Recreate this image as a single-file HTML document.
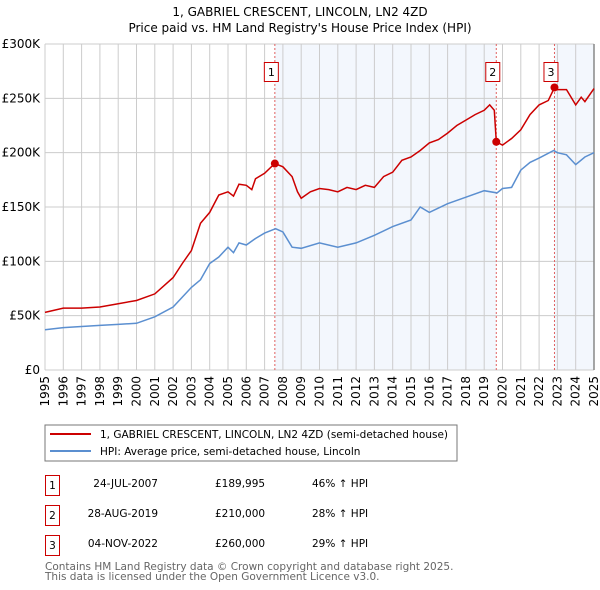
<!DOCTYPE html>
<html><head><meta charset="utf-8"><style>
body{margin:0;background:#fff}
svg{display:block;font-family:"DejaVu Sans","Liberation Sans",sans-serif}
</style></head><body>
<svg id="c" width="600" height="590" viewBox="0 0 600 590">
<text x="300" y="16" text-anchor="middle" font-size="12" fill="#000">1, GABRIEL CRESCENT, LINCOLN, LN2 4ZD</text>
<text x="300" y="32" text-anchor="middle" font-size="12" fill="#000">Price paid vs. HM Land Registry's House Price Index (HPI)</text>
<g id="plot"></g>
<g>
<rect x="45" y="425" width="412" height="36" fill="#fff" stroke="#777"/>
<line x1="50" y1="434" x2="91" y2="434" stroke="#cc0000" stroke-width="2"/>
<text x="100" y="438" font-size="10.5">1, GABRIEL CRESCENT, LINCOLN, LN2 4ZD (semi-detached house)</text>
<line x1="50" y1="451" x2="91" y2="451" stroke="#5b8fd0" stroke-width="2"/>
<text x="100" y="455" font-size="10.5">HPI: Average price, semi-detached house, Lincoln</text>
</g>
<g font-size="10.5">
<rect x="45.5" y="475.5" width="14" height="20" fill="#fff" stroke="#cc0000"/>
<text x="52.5" y="489" text-anchor="middle">1</text>
<text x="158" y="487" text-anchor="end">24-JUL-2007</text>
<text x="215" y="487">£189,995</text>
<text x="312" y="487">46% ↑ HPI</text>
<rect x="45.5" y="505.5" width="14" height="20" fill="#fff" stroke="#cc0000"/>
<text x="52.5" y="519" text-anchor="middle">2</text>
<text x="158" y="517" text-anchor="end">28-AUG-2019</text>
<text x="215" y="517">£210,000</text>
<text x="312" y="517">28% ↑ HPI</text>
<rect x="45.5" y="535.5" width="14" height="20" fill="#fff" stroke="#cc0000"/>
<text x="52.5" y="549" text-anchor="middle">3</text>
<text x="158" y="547" text-anchor="end">04-NOV-2022</text>
<text x="215" y="547">£260,000</text>
<text x="312" y="547">29% ↑ HPI</text>
</g>
<text x="45" y="570" font-size="10.5" fill="#666">Contains HM Land Registry data © Crown copyright and database right 2025.</text>
<text x="45" y="580" font-size="10.5" fill="#666">This data is licensed under the Open Government Licence v3.0.</text>
</svg>
<script>
const yTicks=[0,50000,100000,150000,200000,250000,300000];
const yTickLabels=["£0","£50K","£100K","£150K","£200K","£250K","£300K"];
const years=[1995,1996,1997,1998,1999,2000,2001,2002,2003,2004,2005,2006,2007,2008,2009,2010,2011,2012,2013,2014,2015,2016,2017,2018,2019,2020,2021,2022,2023,2024,2025];
const hpiT=[1995,1996,1997,1998,1999,2000,2001,2002,2003,2003.5,2004,2004.5,2005,2005.3,2005.6,2006,2006.5,2007,2007.6,2008,2008.5,2009,2010,2011,2012,2013,2014,2015,2015.5,2016,2017,2018,2019,2019.7,2020,2020.5,2021,2021.5,2022,2022.8,2023,2023.5,2024,2024.5,2025];
const hpiV=[37000,39000,40000,41000,42000,43000,49000,58000,76000,83000,98000,104000,113000,108000,117000,115000,121000,126000,130000,127000,113000,112000,117000,113000,117000,124000,132000,138000,150000,145000,153000,159000,165000,163000,167000,168000,184000,191000,195000,202000,200000,198000,189000,196000,200000];
const propT=[1995,1996,1997,1998,1999,2000,2001,2002,2002.5,2003,2003.5,2004,2004.5,2005,2005.3,2005.6,2006,2006.3,2006.5,2007,2007.56,2008,2008.5,2008.8,2009,2009.5,2010,2010.5,2011,2011.5,2012,2012.5,2013,2013.5,2014,2014.5,2015,2015.5,2016,2016.5,2017,2017.5,2018,2018.5,2019,2019.3,2019.55,2019.66,2020,2020.5,2021,2021.5,2022,2022.5,2022.84,2023,2023.5,2024,2024.3,2024.5,2025];
const propV=[53000,57000,57000,58000,61000,64000,70000,85000,98000,110000,135000,145000,161000,164000,160000,171000,170000,166000,176000,181000,189995,187000,178000,164000,158000,164000,167000,166000,164000,168000,166000,170000,168000,178000,182000,193000,196000,202000,209000,212000,218000,225000,230000,235000,239000,244000,239000,210000,207000,213000,221000,235000,244000,248000,260000,258000,258000,244000,251000,247000,259000];
const saleT=[2007.56,2019.66,2022.84];
const saleV=[189995,210000,260000];
const saleLabels=["1","2","3"];
const NS='http://www.w3.org/2000/svg';
const g=document.getElementById('plot');
const X0=45,X1=594,Y0=370,Y1=44;
const xs=t=>X0+(t-1995)/30*(X1-X0);
const ys=v=>Y0-v/300000*(Y0-Y1);
function mk(tag,attrs,parent){const e=document.createElementNS(NS,tag);for(const k in attrs)e.setAttribute(k,attrs[k]);(parent||g).appendChild(e);return e;}
let r=mk('rect',{x:xs(saleT[0]),y:Y1,width:xs(saleT[1])-xs(saleT[0]),height:Y0-Y1,fill:'#eef3fc',opacity:0.7});


r=mk('rect',{x:xs(saleT[2]),y:Y1,width:X1-xs(saleT[2]),height:Y0-Y1,fill:'#eef3fc',opacity:0.7});


years.forEach(y=>{const l=mk('line',{x1:xs(y),x2:xs(y),y1:Y1,y2:Y0,stroke:'#ccc','stroke-width':1});


const t=mk('text',{x:0,y:0,'font-size':12,'text-anchor':'end',transform:`translate(${xs(y)+4},376) rotate(-90)`});t.textContent=y;

});
yTicks.forEach((v,i)=>{const l=mk('line',{x1:X0,x2:X1,y1:ys(v),y2:ys(v),stroke:'#ccc','stroke-width':1});


const t=mk('text',{x:40,y:ys(v)+4,'font-size':12,'text-anchor':'end'});t.textContent=yTickLabels[i];

});
const ax=mk('line',{x1:X1,x2:X1,y1:Y1,y2:Y0,stroke:'#888','stroke-width':1.5});


saleT.forEach((t,i)=>{const l=mk('line',{x1:xs(t),x2:xs(t),y1:Y1,y2:Y0,stroke:'#e06060','stroke-width':1,'stroke-dasharray':'2,2'});


const b=mk('rect',{x:xs(t)-10.5,y:62.5,width:14,height:19,fill:'#fff',stroke:'#cc0000'});


const tx=mk('text',{x:xs(t)-3.5,y:76,'font-size':11,'text-anchor':'middle'});tx.textContent=saleLabels[i];

});
const path=(T,V)=>T.map((t,i)=>(i?'L':'M')+xs(t).toFixed(1)+','+ys(V[i]).toFixed(1)).join('');
const hp=mk('path',{d:path(hpiT,hpiV),fill:'none',stroke:'#5b8fd0','stroke-width':1.5});


const pp=mk('path',{d:path(propT,propV),fill:'none',stroke:'#cc0000','stroke-width':1.5});


saleT.forEach((t,i)=>{const c=mk('circle',{cx:xs(t),cy:ys(saleV[i]),r:4,fill:'#cc0000'});

});
</script>
</body></html>
